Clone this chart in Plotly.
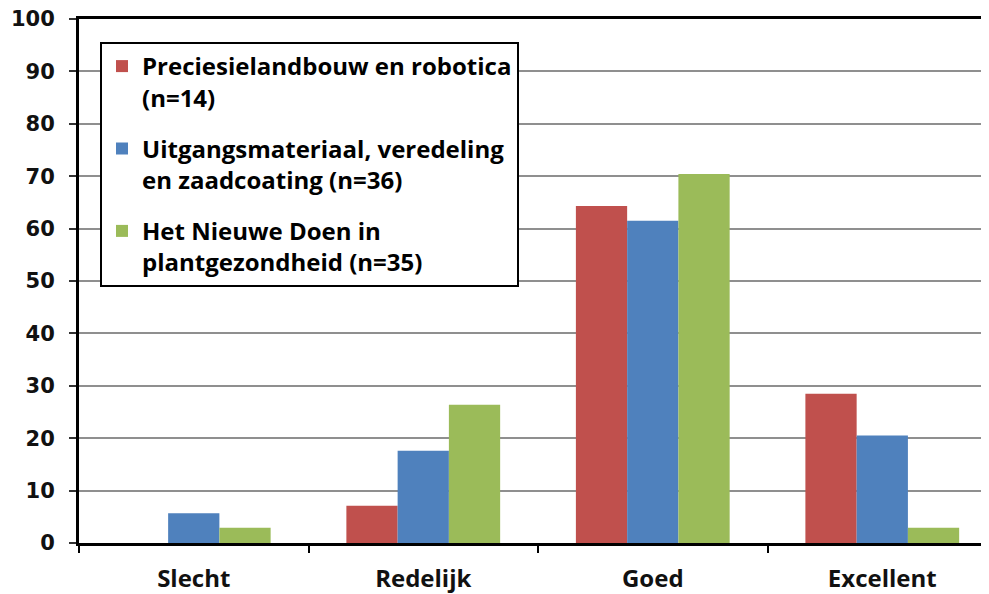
import plotly.graph_objects as go

categories = ["Slecht", "Redelijk", "Goed", "Excellent"]
series_names = [
    "Preciesielandbouw en robotica<br>(n=14)",
    "Uitgangsmateriaal, veredeling<br>en zaadcoating (n=36)",
    "Het Nieuwe Doen in<br>plantgezondheid (n=35)",
]
precisie = [0, 7.1, 64.3, 28.5]
uitgangs = [5.7, 17.6, 61.5, 20.5]
nieuwe_doen = [2.9, 26.4, 70.4, 2.9]
colors = ["#C0504D", "#4F81BD", "#9BBB59"]
y_ticks = [0, 10, 20, 30, 40, 50, 60, 70, 80, 90, 100]

fig = go.Figure()
for i, (name, vals, col) in enumerate(zip(series_names, [precisie, uitgangs, nieuwe_doen], colors)):
    fig.add_trace(go.Bar(x=categories, y=vals, name=name, marker_color=col,
                         marker_line_width=0, legendgroup=f"g{i}"))

# page body has an 8px margin
OFF = 8
W, H = 989 - OFF, 594 - OFF
L, T = 79 - OFF, 19 - OFF
PH = 524
B = H - T - PH
PW = W - L
fig.update_layout(
    width=W, height=H,
    margin=dict(l=L, r=0, t=T, b=B, autoexpand=False),
    paper_bgcolor="white", plot_bgcolor="white",
    barmode="group", bargap=0.33, bargroupgap=0,
    showlegend=True,
    legend=dict(
        x=(100 - 79) / PW, y=(543 - 42) / PH,
        xanchor="left", yanchor="top",
        bgcolor="white", bordercolor="black", borderwidth=2,
        font=dict(family="Open Sans", size=24, color="black", weight="bold"),
        valign="top", itemsizing="constant",
        traceorder="grouped", tracegroupgap=17,
    ),
    xaxis=dict(
        type="category", range=[-0.5, 3.465],
        showline=True, linecolor="black", linewidth=3, mirror=True,
        ticks="outside", tickson="boundaries", ticklen=7, tickwidth=2, tickcolor="black",
        tickfont=dict(family="Open Sans", size=24, color="#111", weight="bold"),
        ticklabelstandoff=12,
        showgrid=False, zeroline=False,
    ),
    yaxis=dict(
        range=[0, 100], tickvals=y_ticks,
        showline=True, linecolor="black", linewidth=3,
        ticks="outside", ticklen=7, tickwidth=2, tickcolor="#333",
        tickfont=dict(family="DejaVu Sans", size=21, color="#111", weight="bold"),
        ticklabelstandoff=10, ticklabeloverflow="allow",
        showgrid=True, gridcolor="#8f8f8f", gridwidth=2, zeroline=False,
    ),
)

fig.write_html("out.html")
